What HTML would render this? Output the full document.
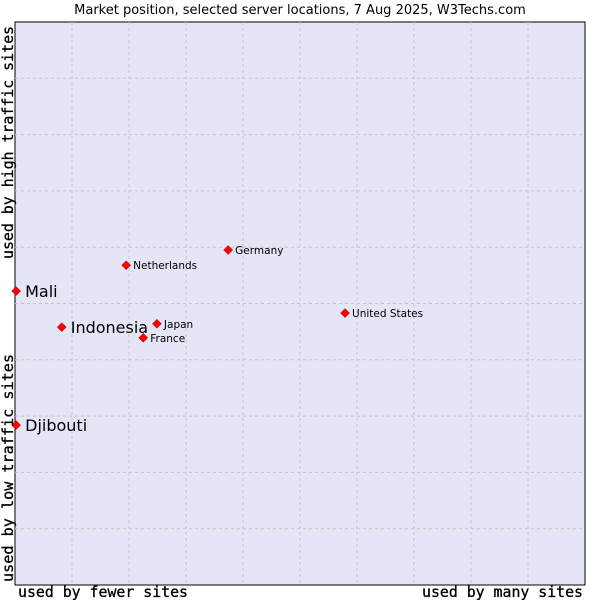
<!DOCTYPE html>
<html><head><meta charset="utf-8"><style>
body{margin:0;background:#fff;}
svg text{font-family:"DejaVu Sans","Liberation Sans",sans-serif;}
</style></head><body>
<svg id="chart" width="600" height="600" xmlns="http://www.w3.org/2000/svg">
<text x="300" y="14" font-size="13" text-anchor="middle" fill="#000">Market position, selected server locations, 7 Aug 2025, W3Techs.com</text>
<rect x="15" y="22" width="570" height="563" fill="#e4e6f8" stroke="#000" stroke-width="1"/>
<g id="grid"></g>
<g id="points"></g>
<text x="18" y="597" font-size="15" stroke="#000" stroke-width="0.3" textLength="170" lengthAdjust="spacingAndGlyphs" style="font-family:'DejaVu Sans Mono','Liberation Mono',monospace">used by fewer sites</text>
<text x="422" y="597" font-size="15" stroke="#000" stroke-width="0.3" textLength="161" lengthAdjust="spacingAndGlyphs" style="font-family:'DejaVu Sans Mono','Liberation Mono',monospace">used by many sites</text>
<text transform="translate(13,259) rotate(-90)" font-size="15" stroke="#000" stroke-width="0.3" textLength="233" lengthAdjust="spacingAndGlyphs" style="font-family:'DejaVu Sans Mono','Liberation Mono',monospace">used by high traffic sites</text>
<text transform="translate(13,582) rotate(-90)" font-size="15" stroke="#000" stroke-width="0.3" textLength="228" lengthAdjust="spacingAndGlyphs" style="font-family:'DejaVu Sans Mono','Liberation Mono',monospace">used by low traffic sites</text>
</svg>
<script>
const names=["Mali","Indonesia","Djibouti","Netherlands","Germany","Japan","France","United States"];
const xVals=[0.2,8.2,0.2,19.5,37.4,24.9,22.5,57.9];
const yVals=[52.2,45.8,28.4,56.8,59.5,46.4,43.9,48.3];
const bigLabel=[true,true,true,false,false,false,false,false];
const L=15,T=22,W=570,H=563;
const sx=v=>L+v/100*W, sy=v=>T+H-v/100*H;
const ns="http://www.w3.org/2000/svg";
const g=document.getElementById('grid'), p=document.getElementById('points');
for(let i=1;i<10;i++){
 let a=document.createElementNS(ns,'line');
 
 
 a.setAttribute('x1',sx(i*10));a.setAttribute('x2',sx(i*10));a.setAttribute('y1',T);a.setAttribute('y2',T+H);
 a.setAttribute('stroke','#c4c4c4');a.setAttribute('stroke-dasharray','3,3');g.appendChild(a);
 let b=document.createElementNS(ns,'line');
 
 
 b.setAttribute('y1',sy(i*10));b.setAttribute('y2',sy(i*10));b.setAttribute('x1',L);b.setAttribute('x2',L+W);
 b.setAttribute('stroke','#c4c4c4');b.setAttribute('stroke-dasharray','3,3');g.appendChild(b);
}
names.forEach((n,i)=>{
 const x=sx(xVals[i]),y=sy(yVals[i]);
 const d=document.createElementNS(ns,'path');
 
 
 d.setAttribute('d',`M${x-4.5},${y}L${x},${y-4.5}L${x+4.5},${y}L${x},${y+4.5}Z`);
 d.setAttribute('fill','#f00');d.setAttribute('stroke','#900');d.setAttribute('stroke-width','0.5');p.appendChild(d);
 const t=document.createElementNS(ns,'text');
 
 
 t.setAttribute('x',x+(bigLabel[i]?9:7));t.setAttribute('y',y+(bigLabel[i]?6:4));
 t.setAttribute('font-size',bigLabel[i]?'16':'10.5');t.textContent=n;p.appendChild(t);
});
</script>
</body></html>
